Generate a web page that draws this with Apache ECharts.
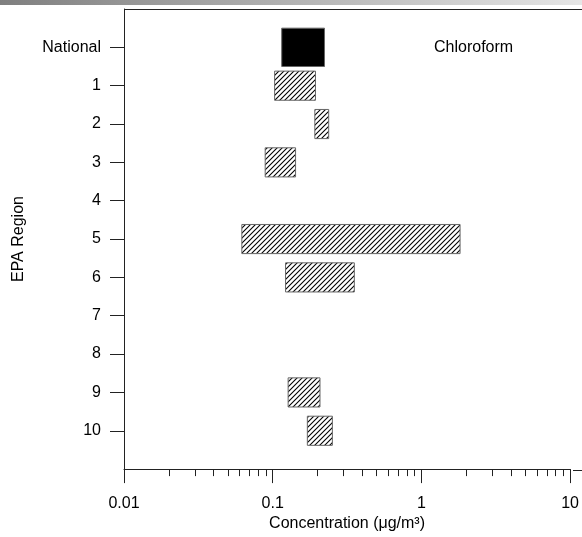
<!DOCTYPE html>
<html lang="en">
<head>
    <meta charset="UTF-8">
    <title>Chloroform by EPA Region</title>
    <script type="text/javascript" src="https://cdn.jsdelivr.net/npm/echarts@6/dist/echarts.min.js"></script>
    <style>
        html, body { margin: 0; padding: 0; background: #fff; }
    </style>
</head>
<body>
<div id="main" style="width: 582px;height:537px;"></div>
<script type="text/javascript">
    // regions, top to bottom
    var regions = ['National', '1', '2', '3', '4', '5', '6', '7', '8', '9', '10'];
    // range of concentration (ug/m3), null = no data
    var lowVals  = [0.115, 0.103, 0.192, 0.089, null, 0.062, 0.122, null, null, 0.127, 0.171];
    var highVals = [0.223, 0.194, 0.238, 0.1425, null, 1.82, 0.354, null, null, 0.208, 0.252];
    var minorTicks = [0.02, 0.03, 0.04, 0.05, 0.06, 0.07, 0.08, 0.09,
                      0.2, 0.3, 0.4, 0.5, 0.6, 0.7, 0.8, 0.9,
                      2, 3, 4, 5, 6, 7, 8, 9];

    // blank slot above and below the regions
    var yCats = [' '].concat(regions).concat(['  ']);

    var rangeData = [];
    for (var i = 0; i < regions.length; i++) {
        if (lowVals[i] == null) continue;
        rangeData.push({ name: regions[i], value: [lowVals[i], highVals[i], i + 1] });
    }

    // hatch tile
    var tile = document.createElement('canvas');
    tile.width = 5;
    tile.height = 5;
    var ctx = tile.getContext('2d');
    ctx.fillStyle = '#fff';
    ctx.fillRect(0, 0, 5, 5);
    ctx.strokeStyle = '#000';
    ctx.lineWidth = 1.1;
    ctx.beginPath();
    ctx.moveTo(-1, 6); ctx.lineTo(6, -1);
    ctx.moveTo(-1, 1); ctx.lineTo(1, -1);
    ctx.moveTo(4, 6); ctx.lineTo(6, 4);
    ctx.stroke();

    var font = 'Liberation Sans, Arial, sans-serif';
    var fs = 16;

    var option = {
        animation: false,
        grid: { left: 124, right: 9, top: 9, bottom: 67 },
        xAxis: [
            {
                type: 'log',
                logBase: 10,
                min: 0.01,
                max: 10,
                name: 'Concentration (\u03bcg/m\u00b3)',
                nameLocation: 'middle',
                nameGap: 45,
                nameTextStyle: { color: '#000', fontSize: fs, fontFamily: font },
                axisLine: { show: true, onZero: false, lineStyle: { color: '#222', width: 1 } },
                axisTick: { show: true, length: 14, lineStyle: { color: '#222' } },
                axisLabel: {
                    color: '#000', fontSize: fs, fontFamily: font, margin: 26,
                    formatter: function (v) { return String(+v.toPrecision(3)); }
                },
                splitLine: { show: false }
            },
            {
                type: 'log',
                logBase: 10,
                min: 0.01,
                max: 10,
                position: 'bottom',
                axisLine: { show: false, onZero: false },
                axisTick: { show: true, length: 7, customValues: minorTicks, lineStyle: { color: '#222' } },
                axisLabel: { show: false },
                splitLine: { show: false }
            }
        ],
        yAxis: {
            type: 'category',
            inverse: true,
            boundaryGap: false,
            data: yCats,
            name: 'EPA Region',
            nameLocation: 'middle',
            nameGap: 97,
            nameRotate: 90,
            nameTextStyle: { color: '#000', fontSize: fs, fontFamily: font },
            axisLine: { onZero: false, lineStyle: { color: '#222', width: 1 } },
            axisTick: {
                length: 14,
                lineStyle: { color: '#222' },
                interval: function (idx, val) { return val.trim() !== ''; }
            },
            axisLabel: {
                color: '#000', fontSize: fs, fontFamily: font, margin: 23,
                interval: 0
            },
            splitLine: { show: false }
        },
        graphic: [
            {
                type: 'rect',
                shape: { x: 0, y: 0, width: 582, height: 5 },
                style: {
                    fill: new echarts.graphic.LinearGradient(0, 0, 1, 0, [
                        { offset: 0, color: '#7f7f7f' },
                        { offset: 1, color: '#e6e6e6' }
                    ])
                }
            },
            {
                type: 'line',
                shape: { x1: 124, y1: 9.5, x2: 582, y2: 9.5 },
                style: { stroke: '#222', lineWidth: 1 }
            },
            {
                type: 'line',
                shape: { x1: 573, y1: 470.5, x2: 582, y2: 470.5 },
                style: { stroke: '#222', lineWidth: 1 }
            },
            {
                type: 'text',
                left: 434,
                top: 40,
                style: { text: 'Chloroform', fill: '#000', font: fs + 'px ' + font }
            }
        ],
        series: [
            {
                type: 'custom',
                xAxisIndex: 0,
                encode: { x: [0, 1], y: 2 },
                data: rangeData,
                renderItem: function (params, api) {
                    var cat = api.value(2);
                    var p0 = api.coord([api.value(0), cat]);
                    var p1 = api.coord([api.value(1), cat]);
                    var band = api.size([0, 1])[1];
                    var national = cat === 1;
                    var h = band * (national ? 1.0 : 0.76);
                    return {
                        type: 'rect',
                        shape: { x: p0[0], y: p0[1] - h / 2, width: p1[0] - p0[0], height: h },
                        style: {
                            fill: national ? '#000' : { image: tile, repeat: 'repeat' },
                            stroke: '#666',
                            lineWidth: 1
                        }
                    };
                }
            }
        ]
    };

    var myChart = echarts.init(document.getElementById('main'));
    myChart.setOption(option);
</script>
</body>
</html>
